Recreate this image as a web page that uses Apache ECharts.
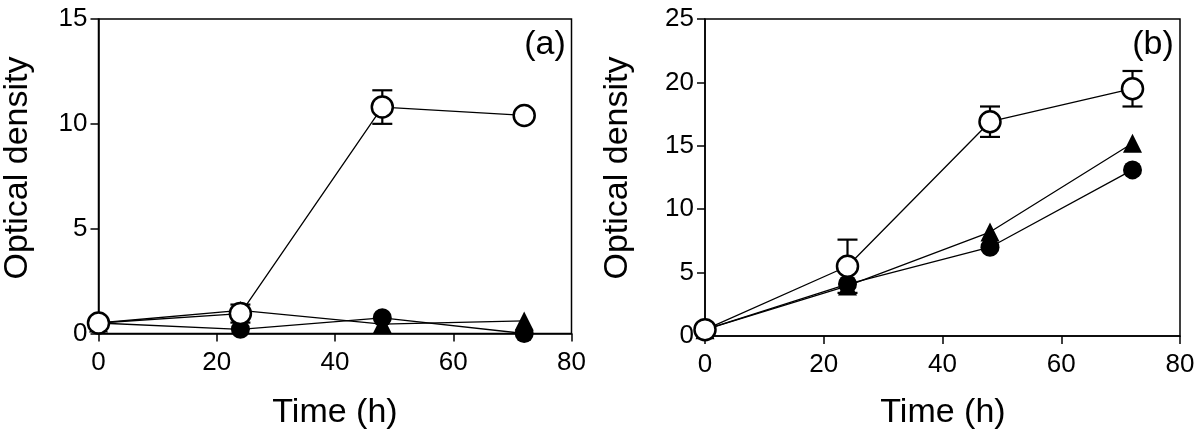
<!DOCTYPE html>
<html>
<head>
<meta charset="utf-8">
<script src="https://cdn.jsdelivr.net/npm/echarts@6/dist/echarts.min.js"></script>
<style>html,body{margin:0;padding:0;background:#fff}#c{width:1200px;height:440px}</style>
</head>
<body>
<div id="c"></div>
<script>
const timeH = [0, 24, 48, 72];
const xTicks = [0, 20, 40, 60, 80];
const aYTicks = [0, 5, 10, 15];
const bYTicks = [0, 5, 10, 15, 20, 25];
// Panel (a)
const aOpen = [0.5, 0.95, 10.8, 10.4];
const aOpenErr = [0, 0.43, 0.8, 0];
const aFilled = [0.5, 0.2, 0.75, 0.0];
const aTriangle = [0.5, 1.1, 0.45, 0.6];
// Panel (b)
const bOpen = [0.5, 5.5, 16.9, 19.5];
const bOpenErr = [0, 2.1, 1.2, 1.4];
const bFilled = [0.5, 4.1, 7.0, 13.1];
const bTriangle = [0.5, 3.95, 8.2, 15.2];

const FONT = '"Liberation Sans", Arial, sans-serif';
const chart = echarts.init(document.getElementById('c'), null, {renderer: 'canvas'});

function pts(ys) { return timeH.map((t, i) => [t, ys[i]]); }
function errPts(ys, es) { return timeH.map((t, i) => [t, ys[i], es[i]]).filter(d => d[2] > 0); }

function xAxis(gi) {
  return {
    type: 'value', gridIndex: gi, min: xTicks[0], max: xTicks[xTicks.length - 1], interval: xTicks[1] - xTicks[0],
    axisLine: {show: true, lineStyle: {color: '#000', width: 1.5}},
    axisTick: {show: true, length: 8, lineStyle: {color: '#000', width: 1.5}},
    axisLabel: {color: '#000', fontSize: 26, fontFamily: FONT, margin: 16},
    splitLine: {show: false}
  };
}
function yAxis(gi, ticks) {
  return {
    type: 'value', gridIndex: gi, min: ticks[0], max: ticks[ticks.length - 1], interval: ticks[1] - ticks[0],
    axisLine: {show: true, lineStyle: {color: '#000', width: 1.5}},
    axisTick: {show: true, length: 8, lineStyle: {color: '#000', width: 1.5}},
    axisLabel: {color: '#000', fontSize: 26, fontFamily: FONT, margin: 11},
    splitLine: {show: false}
  };
}
function errSeries(gi, data) {
  return {
    type: 'custom', xAxisIndex: gi, yAxisIndex: gi, z: 2, silent: true,
    data: data,
    renderItem: function (params, api) {
      const x = api.value(0), y = api.value(1), e = api.value(2);
      const top = api.coord([x, y + e]);
      const bot = api.coord([x, y - e]);
      const hw = 10;
      const st = {stroke: '#000', lineWidth: 2.2};
      return {type: 'group', children: [
        {type: 'line', shape: {x1: top[0], y1: top[1], x2: bot[0], y2: bot[1]}, style: st},
        {type: 'line', shape: {x1: top[0] - hw, y1: top[1], x2: top[0] + hw, y2: top[1]}, style: st},
        {type: 'line', shape: {x1: bot[0] - hw, y1: bot[1], x2: bot[0] + hw, y2: bot[1]}, style: st}
      ]};
    }
  };
}
function lineSeries(gi, ys, symbol, filled, size, z) {
  return {
    type: 'line', xAxisIndex: gi, yAxisIndex: gi, data: pts(ys), z: z,
    symbol: symbol, symbolSize: size, showSymbol: true,
    lineStyle: {color: '#000', width: 1.3},
    itemStyle: filled ? {color: '#000', borderColor: '#000', borderWidth: 0}
                      : {color: '#fff', borderColor: '#000', borderWidth: 2.5},
    emphasis: {disabled: true}, animation: false
  };
}

const option = {
  animation: false,
  backgroundColor: '#fff',
  grid: [
    {left: 98.5, top: 19, width: 473, height: 314.5, show: true, borderColor: '#000', borderWidth: 1.5, backgroundColor: 'transparent'},
    {left: 705, top: 19, width: 475, height: 317, show: true, borderColor: '#000', borderWidth: 1.5, backgroundColor: 'transparent'}
  ],
  xAxis: [xAxis(0), xAxis(1)],
  yAxis: [yAxis(0, aYTicks), yAxis(1, bYTicks)],
  series: [
    lineSeries(0, aTriangle, 'triangle', true, 19, 3),
    lineSeries(0, aFilled, 'circle', true, 19, 4),
    errSeries(0, errPts(aOpen, aOpenErr)),
    lineSeries(0, aOpen, 'circle', false, 21, 5),
    lineSeries(1, bTriangle, 'triangle', true, 19, 3),
    lineSeries(1, bFilled, 'circle', true, 19, 4),
    errSeries(1, errPts(bOpen, bOpenErr)),
    lineSeries(1, bOpen, 'circle', false, 21, 5)
  ],
  graphic: [
    {type: 'text', x: 18, y: 168, rotation: Math.PI / 2, style: {text: 'Optical density', font: '34px ' + FONT, fill: '#000', textAlign: 'center', textVerticalAlign: 'middle'}},
    {type: 'text', x: 618, y: 168, rotation: Math.PI / 2, style: {text: 'Optical density', font: '34px ' + FONT, fill: '#000', textAlign: 'center', textVerticalAlign: 'middle'}},
    {type: 'text', x: 335, y: 413, style: {text: 'Time (h)', font: '34px ' + FONT, fill: '#000', textAlign: 'center', textVerticalAlign: 'middle'}},
    {type: 'text', x: 943, y: 413, style: {text: 'Time (h)', font: '34px ' + FONT, fill: '#000', textAlign: 'center', textVerticalAlign: 'middle'}},
    {type: 'text', x: 545, y: 45, style: {text: '(a)', font: '34px ' + FONT, fill: '#000', textAlign: 'center', textVerticalAlign: 'middle'}},
    {type: 'text', x: 1153, y: 45, style: {text: '(b)', font: '34px ' + FONT, fill: '#000', textAlign: 'center', textVerticalAlign: 'middle'}}
  ]
};
chart.setOption(option);
</script>
</body>
</html>
